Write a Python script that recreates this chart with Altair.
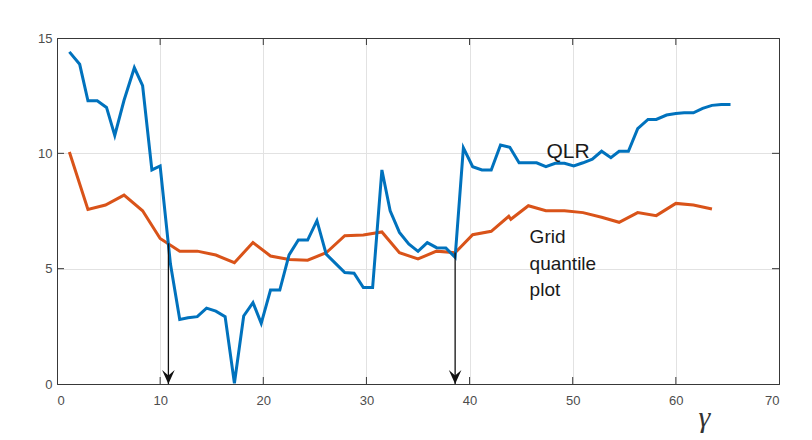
import altair as alt
import pandas as pd

# ---------------- data ----------------
qlr_x = [1.2, 2.2, 3.0, 3.9, 4.8, 5.6, 6.5, 7.5, 8.3, 9.2,
         10.0, 11.0, 11.9, 12.7, 13.6, 14.5, 15.4, 16.3, 17.2, 18.1,
         19.0, 19.8, 20.7, 21.6, 22.5, 23.4, 24.3, 25.2, 26.1, 27.0,
         27.9, 28.8, 29.7, 30.6, 31.5, 32.3, 33.2, 34.1, 35.0, 35.9,
         36.8, 37.7, 38.6, 39.4, 40.3, 41.2, 42.1, 43.0, 43.9, 44.8,
         45.7, 46.5, 47.4, 48.3, 49.2, 50.1, 51.0, 51.9, 52.8, 53.7,
         54.5, 55.4, 56.3, 57.3, 58.1, 59.1, 60.0, 60.8, 61.7, 62.6,
         63.5, 64.4, 65.3]
qlr_y = [14.4, 13.86, 12.28, 12.28, 11.99, 10.78, 12.3, 13.71, 12.93, 9.28,
         9.45, 5.2, 2.8, 2.87, 2.92, 3.29, 3.16, 2.92, 0.03, 2.95,
         3.53, 2.63, 4.07, 4.07, 5.6, 6.24, 6.24, 7.08, 5.63, 5.23,
         4.83, 4.8, 4.18, 4.18, 9.28, 7.51, 6.57, 6.07, 5.75, 6.13,
         5.91, 5.9, 5.49, 10.24, 9.42, 9.28, 9.28, 10.36, 10.26, 9.59,
         9.59, 9.59, 9.42, 9.57, 9.57, 9.45, 9.59, 9.75, 10.09, 9.81,
         10.09, 10.09, 11.07, 11.47, 11.47, 11.66, 11.73, 11.76, 11.76, 11.95,
         12.08, 12.12, 12.12]

grid_x = [1.2, 3.0, 4.7, 6.5, 8.3, 10.0, 11.9, 13.6, 15.4, 17.2,
          19.0, 20.7, 22.5, 24.3, 26.1, 27.9, 29.7, 31.5, 33.2, 35.0,
          36.8, 38.6, 40.3, 42.1, 43.8, 44.0, 45.7, 47.4, 49.2, 51.0,
          52.8, 54.5, 56.3, 58.1, 60.0, 61.7, 63.5]
grid_y = [10.06, 7.57, 7.76, 8.19, 7.51, 6.31, 5.76, 5.76, 5.59, 5.26,
          6.13, 5.55, 5.4, 5.37, 5.69, 6.43, 6.46, 6.59, 5.69, 5.42,
          5.76, 5.69, 6.47, 6.62, 7.27, 7.14, 7.73, 7.51, 7.51, 7.43,
          7.23, 7.01, 7.43, 7.3, 7.83, 7.76, 7.59]

arrow_x = [10.8, 38.6]
arrow_top = [6.1, 5.7]

x_ticks = [0, 10, 20, 30, 40, 50, 60, 70]
y_ticks = [0, 5, 10, 15]
x_inner = [10, 20, 30, 40, 50, 60]
y_inner = [5, 10]

labels_text = ["QLR", "Grid\nquantile\nplot"]
labels_x = [47.46, 45.82]
labels_y = [9.8, 6.1]

# ---------------- frames ----------------
df_qlr = pd.DataFrame({"x": qlr_x, "y": qlr_y})
df_grid = pd.DataFrame({"x": grid_x, "y": grid_y})
df_arrow = pd.DataFrame({"x": arrow_x, "y": arrow_top, "y0": [0.0] * len(arrow_x)})
df_xt = pd.DataFrame({"x": x_inner})
df_yt = pd.DataFrame({"y": y_inner})
df_one = pd.DataFrame({"k": [0]})

W, H = 722, 346
FRAME = "#383838"
GRID = "#e2e2e2"
LABEL_FONT = "Liberation Sans"

xscale = alt.Scale(domain=[0, 70], nice=False, zero=False)
yscale = alt.Scale(domain=[0, 15], nice=False, zero=False)

x_grid_color = {"condition": {"test": "datum.value === 0 || datum.value === 70", "value": FRAME},
                "value": GRID}
y_grid_color = {"condition": {"test": "datum.value === 0 || datum.value === 15", "value": FRAME},
                "value": GRID}

x_enc = alt.X(
    "x:Q", scale=xscale,
    axis=alt.Axis(
        values=x_ticks, grid=True, gridColor=x_grid_color, gridWidth=1,
        ticks=False, domain=False, labelFont=LABEL_FONT, labelFontSize=13,
        labelColor="#4d4d4d", labelPadding=10, format="d",
        title="γ", titleFont="Liberation Serif", titleFontStyle="italic",
        titleFontWeight="normal", titleFontSize=30, titleColor="#333333",
        titleX=647, titleY=42, titleAlign="center", titleBaseline="alphabetic",
    ),
)
y_enc = alt.Y(
    "y:Q", scale=yscale,
    axis=alt.Axis(
        values=y_ticks, grid=True, gridColor=y_grid_color, gridWidth=1,
        ticks=False, domain=False, labelFont=LABEL_FONT, labelFontSize=13,
        labelColor="#4d4d4d", labelPadding=5, format="d", title=None,
    ),
)

x_plain = alt.X("x:Q", scale=xscale)
y_plain = alt.Y("y:Q", scale=yscale)

tick_bottom = alt.Chart(df_xt).mark_rule(color=FRAME, strokeWidth=1).encode(
    x=x_plain, y=alt.value(H), y2=alt.value(H - 7))
tick_top = alt.Chart(df_xt).mark_rule(color=FRAME, strokeWidth=1).encode(
    x=x_plain, y=alt.value(0), y2=alt.value(7))
tick_left = alt.Chart(df_yt).mark_rule(color=FRAME, strokeWidth=1).encode(
    y=y_plain, x=alt.value(0), x2=alt.value(7))
tick_right = alt.Chart(df_yt).mark_rule(color=FRAME, strokeWidth=1).encode(
    y=y_plain, x=alt.value(W), x2=alt.value(W - 7))

axis_holder = alt.Chart(df_grid).mark_line(strokeWidth=0, opacity=0).encode(
    x=x_enc, y=y_enc
)
grid_line = alt.Chart(df_grid).mark_line(color="#D95319", strokeWidth=3).encode(
    x=x_plain, y=y_plain
)
qlr_line = alt.Chart(df_qlr).mark_line(color="#0072BD", strokeWidth=3).encode(
    x=x_plain, y=y_plain
)

arrow_rule = alt.Chart(df_arrow).mark_rule(color="#111111", strokeWidth=1.3).encode(
    x=x_plain, y=y_plain, y2="y0:Q"
)
arrow_head = alt.Chart(df_arrow).mark_point(
    shape="M0,0 L-0.45,-1 L0,-0.6 L0.45,-1 Z",
    filled=True, color="#111111", opacity=1, size=784, strokeWidth=0,
).encode(x=x_plain, y=alt.Y("y0:Q", scale=yscale))

df_qlr_lab = pd.DataFrame({"x": [labels_x[0]], "y": [labels_y[0]], "t": [labels_text[0]]})
df_grid_lab = pd.DataFrame({"x": [labels_x[1]], "y": [labels_y[1]], "t": [labels_text[1]]})

qlr_text = alt.Chart(df_qlr_lab).mark_text(
    font=LABEL_FONT, fontSize=21, color="#1a1a1a", align="left", baseline="alphabetic"
).encode(x=x_plain, y=y_plain, text="t:N")
grid_text = alt.Chart(df_grid_lab).mark_text(
    font=LABEL_FONT, fontSize=19, color="#1a1a1a", align="left", baseline="alphabetic",
    lineBreak="\n", lineHeight=26.5,
).encode(x=x_plain, y=y_plain, text="t:N")

# plot-box frame, pixel aligned, on top
frame_box = alt.Chart(df_one).mark_rect(
    filled=False, fillOpacity=0, stroke=FRAME, strokeWidth=1, strokeOpacity=1
).encode(
    x=alt.value(0.5), x2=alt.value(W + 0.5), y=alt.value(0.5), y2=alt.value(H + 0.5)
)

chart = alt.layer(
    axis_holder,
    tick_bottom, tick_top, tick_left, tick_right,
    grid_line, qlr_line, arrow_rule, arrow_head,
    qlr_text, grid_text, frame_box,
).properties(
    width=W, height=H,
    autosize=alt.AutoSizeParams(type="none"),
    padding={"left": 57, "top": 38, "right": 33, "bottom": 56},
    background="white",
).configure_view(stroke="transparent", strokeWidth=0)

chart.save("out.html", embed_options={"renderer": "svg", "actions": False})
